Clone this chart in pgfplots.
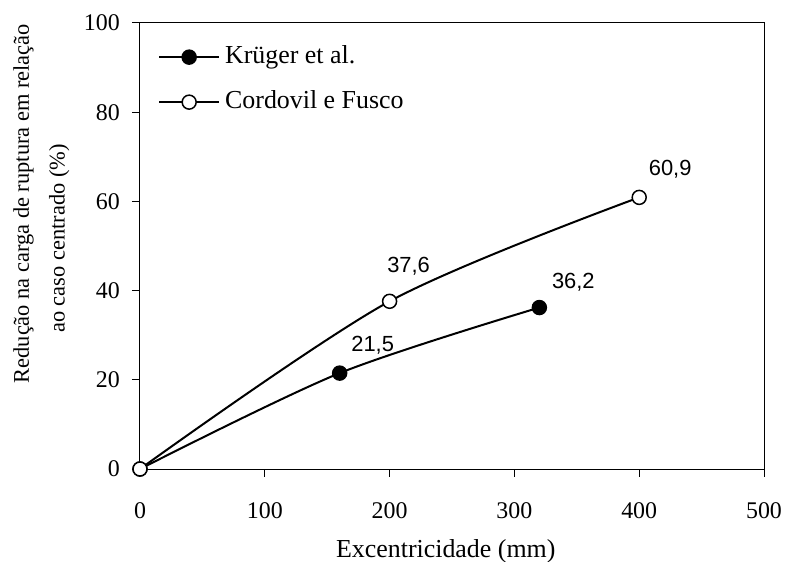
\documentclass[border=0pt]{standalone}
\usepackage{fontspec}
\setmainfont{Liberation Serif}
\newfontfamily\arial{Liberation Sans}
\usepackage{pgfplots}
\usepackage{pgfplotstable}
\pgfplotsset{compat=1.18}

% x  y  label offsets (bp)
\pgfplotstableread{
x   y     lab   dx  dy
0   0     {}    0   0
160 21.5  21,5  33  28
320 36.2  36,2  34  25
}\kruger
\pgfplotstableread{
x   y     lab   dx  dy
0   0     {}    0   0
200 37.6  37,6  19  35
400 60.9  60,9  31  28
}\cordovil

\begin{document}
\begin{tikzpicture}
\begin{axis}[
  at={(0,0)}, anchor=south west,
  scale only axis,
  width=624bp, height=446bp,
  xmin=0, xmax=500,
  ymin=0, ymax=100,
  xtick={0,100,...,500},
  ytick={0,20,...,100},
  xtick pos=bottom, ytick pos=left,
  tick align=outside,
  major tick length=8bp,
  axis line style={line width=1bp},
  every tick/.style={black, line width=1bp},
  /pgf/number format/assume math mode=true,
  ticklabel style={font=\fontsize{24}{28}\selectfont, inner sep=0pt},
  xticklabel style={yshift=-25bp},
  yticklabel style={xshift=-12bp},
  xlabel={Excentricidade (mm)},
  xlabel style={at={(axis description cs:0.49,-0.185)}, anchor=center,
    font=\fontsize{26}{30}\selectfont},
  ylabel={Redução na carga de ruptura em relação\\ao caso centrado (\%)\rule{70bp}{0pt}},
  ylabel style={at={(axis description cs:-0.158,0.595)}, anchor=center,
    align=center, font=\fontsize{22.5}{36}\selectfont},
  clip=false,
  legend cell align=left,
  legend style={draw=none, fill=none,
    at={(axis description cs:0.024,0.873)}, anchor=west,
    font=\fontsize{26}{30}\selectfont,
    nodes={inner sep=0pt, text height=18bp, text depth=6bp},
    row sep=21bp, column sep=5bp},
  legend image code/.code={
    \draw[mark repeat=2, mark phase=2, #1]
      plot coordinates {(0bp,0bp) (30bp,0bp) (60bp,0bp)};},
  point meta=explicit symbolic,
  nodes near coords,
  visualization depends on={\thisrow{dx} \as \dx},
  visualization depends on={\thisrow{dy} \as \dy},
  every node near coord/.append style={anchor=center, xshift=\dx bp, yshift=\dy bp,
    font=\arial\fontsize{22}{26}\selectfont, inner sep=0pt, black},
]
\addplot[smooth, line width=2bp, black, mark=*, mark size=7bp,
  mark options={line width=1.5bp, fill=black}]
  table[x=x, y=y, meta=lab] {\kruger};
\addlegendentry{Krüger et al.}
\addplot[smooth, line width=2bp, black, mark=*, mark size=7bp,
  mark options={line width=1.5bp, fill=white}]
  table[x=x, y=y, meta=lab] {\cordovil};
\addlegendentry{Cordovil e Fusco}
\end{axis}
\pgfresetboundingbox
\path (-140bp,-93bp) rectangle (645bp,469bp);
\end{tikzpicture}
\end{document}
